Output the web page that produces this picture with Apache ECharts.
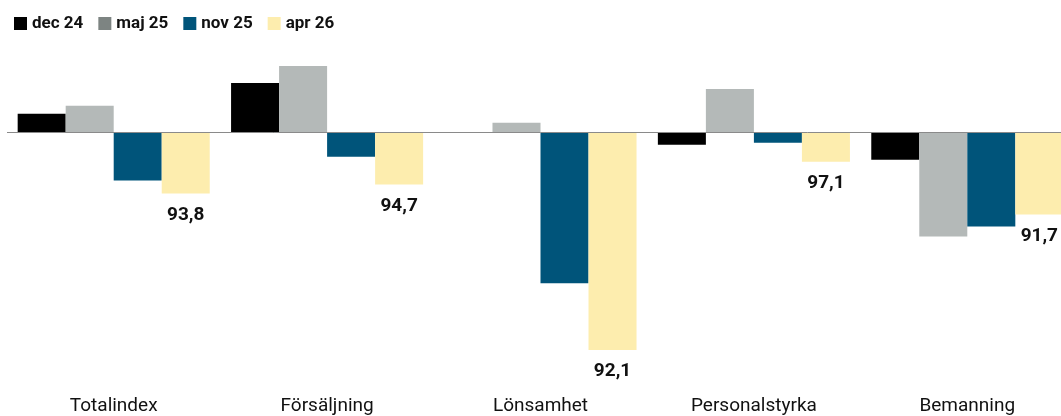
<!DOCTYPE html>
<html><head><meta charset="utf-8">
<script src="https://cdn.jsdelivr.net/npm/echarts@6/dist/echarts.min.js"></script>
<style>html,body{margin:0;padding:0;background:#fff;overflow:hidden;width:1061px;height:416px}#c{width:1074px;height:416px}</style>
</head><body><div id="c"></div>
<script>
const categories = ['Totalindex', 'Försäljning', 'Lönsamhet', 'Personalstyrka', 'Bemanning'];
const seriesNames = ['dec 24', 'maj 25', 'nov 25', 'apr 26'];
const dec24 = [1.9, 5.0, 0, -1.2, -2.7];
const maj25 = [2.7, 6.7, 1.0, 4.4, -10.4];
const nov25 = [-4.8, -2.4, -15.1, -1.0, -9.4];
const apr26 = [-6.1, -5.2, -21.8, -2.9, -8.2];
const apr26Labels = ['93,8', '94,7', '92,1', '97,1', '91,7'];

const colors = ['#000000', '#b4b9b8', '#00547a', '#fdedae'];
const legendColors = ['#000000', '#7d8482', '#00547a', '#fdedae'];
const FONT = 'Roboto';

const chart = echarts.init(document.getElementById('c'), null, {renderer: 'canvas'});
const seriesData = [dec24, maj25, nov25, apr26];
const series = seriesData.map((d, i) => {
  const s = {
    name: seriesNames[i], type: 'bar', data: d,
    barGap: '0%', barCategoryGap: '10%',
    itemStyle: {color: colors[i]},
    emphasis: {disabled: true},
    animation: false
  };
  if (i === 3) {
    s.label = {
      show: true, position: 'bottom', distance: 12,
      formatter: p => apr26Labels[p.dataIndex],
      fontFamily: FONT, fontWeight: 'bold', fontSize: 19, color: '#111'
    };
  }
  if (i === 0) {
    s.markLine = {
      silent: true, symbol: 'none', label: {show: false},
      lineStyle: {color: '#8a8a8a', width: 1, type: 'solid'},
      data: [{yAxis: 0}], animation: false
    };
  }
  return s;
});

chart.setOption({
  animation: false,
  legend: {
    left: 9, top: 10, itemWidth: 13, itemHeight: 13, itemGap: 15, icon: 'rect',
    textStyle: {fontFamily: FONT, fontWeight: 'bold', fontSize: 17, color: '#111'},
    data: seriesNames.map((n, i) => ({name: n, itemStyle: {color: legendColors[i]}}))
  },
  grid: {left: 7, right: 0, top: 53, height: 300, containLabel: false},
  xAxis: {
    type: 'category', data: categories,
    axisLine: {show: false}, axisTick: {show: false},
    axisLabel: {margin: 45, fontFamily: FONT, fontSize: 19, color: '#111'}
  },
  yAxis: {
    type: 'value', min: -22, max: 8, show: false,
    splitLine: {show: false}
  },
  series: series
});
</script></body></html>
